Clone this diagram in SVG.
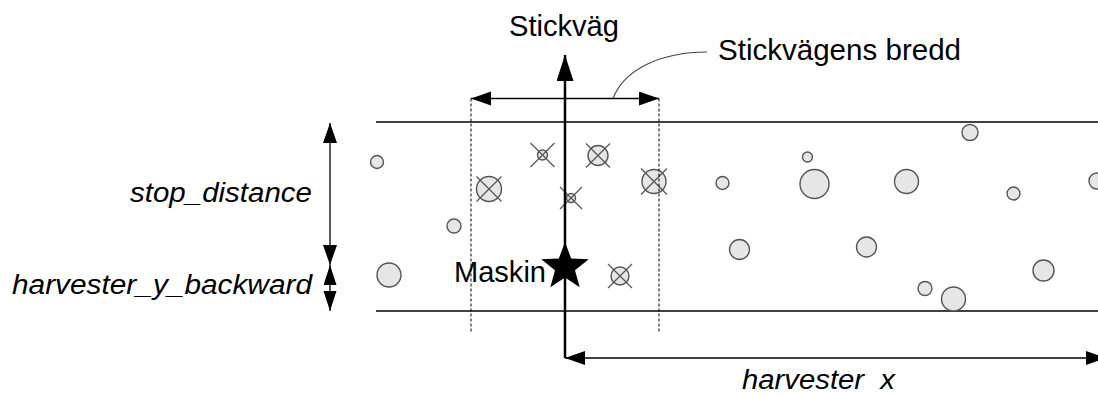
<svg xmlns="http://www.w3.org/2000/svg" width="1098" height="394" viewBox="0 0 1098 394">
  <style>
    .lbl { font-family: "Liberation Sans", Arial, sans-serif; font-size: 29px; fill: #000; }
    .ital { font-family: "Liberation Sans", Arial, sans-serif; font-size: 27px; font-style: italic; fill: #000; }
    .tree { fill: #e6e6e6; stroke: #555; stroke-width: 1.4; }
    .cross { stroke: #555; stroke-width: 1.2; fill: none; }
    .edge { stroke: #000; stroke-width: 1.3; fill: none; }
    .dash { stroke: #000; stroke-width: 1; stroke-dasharray: 3 2; fill: none; }
    .dim { stroke: #000; stroke-width: 1.3; fill: none; }
    .axis { stroke: #000; stroke-width: 2.5; fill: none; }
    .leader { stroke: #444; stroke-width: 1.1; fill: none; }
  </style>
  <defs>
    <marker id="arr" markerUnits="userSpaceOnUse" markerWidth="22" markerHeight="16" refX="20" refY="7" orient="auto-start-reverse" viewBox="0 0 22 16">
      <path d="M0,0 L20,7 L0,14 z" fill="#000"/>
    </marker>
    <marker id="arrS" markerUnits="userSpaceOnUse" markerWidth="22" markerHeight="16" refX="20" refY="6.5" orient="auto-start-reverse" viewBox="0 0 22 16">
      <path d="M0,0 L20,6.5 L0,13 z" fill="#000"/>
    </marker>
    <marker id="arrBig" markerUnits="userSpaceOnUse" markerWidth="30" markerHeight="20" refX="26" refY="8.5" orient="auto" viewBox="0 0 30 20">
      <path d="M0,0 L26,8.5 L0,17 z" fill="#000"/>
    </marker>
  </defs>

  <g id="road">
    <line class="edge" x1="376" y1="122" x2="1098" y2="122"/>
    <line class="edge" x1="376" y1="311" x2="1098" y2="311"/>
  </g>

  <g id="trees">
    <g id="t1"><circle class="tree" cx="377" cy="162" r="6.5"/></g>
    <g id="t2"><circle class="tree" cx="389" cy="275" r="12"/></g>
    <g id="t3"><circle class="tree" cx="454" cy="226" r="7"/></g>
    <g id="t4"><circle class="tree" cx="722.5" cy="183" r="6.5"/></g>
    <g id="t5"><circle class="tree" cx="807.5" cy="157" r="5"/></g>
    <g id="t6"><circle class="tree" cx="814.5" cy="184" r="14.5"/></g>
    <g id="t7"><circle class="tree" cx="906.5" cy="181.5" r="12"/></g>
    <g id="t8"><circle class="tree" cx="970" cy="132.5" r="8"/></g>
    <g id="t9"><circle class="tree" cx="1013.5" cy="193.5" r="6.5"/></g>
    <g id="t10"><circle class="tree" cx="1097" cy="181" r="8"/></g>
    <g id="t11"><circle class="tree" cx="739.5" cy="249.5" r="10"/></g>
    <g id="t12"><circle class="tree" cx="866.5" cy="247" r="10"/></g>
    <g id="t13"><circle class="tree" cx="925" cy="288.5" r="7"/></g>
    <g id="t14"><circle class="tree" cx="953.5" cy="299" r="12"/></g>
    <g id="t15"><circle class="tree" cx="1043.5" cy="270.5" r="10.5"/></g>

    <g id="c1"><circle class="tree" cx="542.5" cy="155" r="5"/>
      <path class="cross" d="M530.5,143 L554.5,167 M554.5,143 L530.5,167"/></g>
    <g id="c2"><circle class="tree" cx="598" cy="155.5" r="10"/>
      <path class="cross" d="M586,143.5 L610,167.5 M610,143.5 L586,167.5"/></g>
    <g id="c3"><circle class="tree" cx="489" cy="189" r="12.5"/>
      <path class="cross" d="M476.5,176.5 L501.5,201.5 M501.5,176.5 L476.5,201.5"/></g>
    <g id="c4"><circle class="tree" cx="571" cy="198" r="4.5"/>
      <path class="cross" d="M560,187 L582,209 M582,187 L560,209"/></g>
    <g id="c5"><circle class="tree" cx="654" cy="181.5" r="12"/>
      <path class="cross" d="M641,168.5 L667,194.5 M667,168.5 L641,194.5"/></g>
    <g id="c6"><circle class="tree" cx="620" cy="276" r="9"/>
      <path class="cross" d="M608,264 L632,288 M632,264 L608,288"/></g>
  </g>

  <g id="connectors">
    <line class="dash" x1="471" y1="98.5" x2="471" y2="332"/>
    <line class="dash" x1="659" y1="98.5" x2="659" y2="332"/>
    <line class="dim" x1="471" y1="98.5" x2="659" y2="98.5" marker-start="url(#arr)" marker-end="url(#arr)"/>
    <path class="leader" d="M613,98.5 C624,70 660,52 707,52"/>
    <line class="axis" x1="565" y1="358" x2="565" y2="55" marker-end="url(#arrBig)"/>
    <line class="dim" x1="565" y1="358" x2="1106" y2="358" marker-start="url(#arr)" marker-end="url(#arr)"/>
    <line class="dim" x1="330" y1="123" x2="330" y2="265" marker-start="url(#arr)" marker-end="url(#arr)"/>
    <line class="dim" x1="330" y1="265" x2="330" y2="311" marker-start="url(#arrS)" marker-end="url(#arrS)"/>
  </g>

  <g id="machine">
    <polygon fill="#000" points="565,242 571.17,258.51 588.78,259.27 574.99,270.24 579.69,287.23 565,277.5 550.31,287.23 555.01,270.24 541.22,259.27 558.83,258.51"/>
    <text class="lbl" x="454" y="282" textLength="92" lengthAdjust="spacingAndGlyphs">Maskin</text>
  </g>

  <g id="labels">
    <text class="lbl" x="509" y="36" textLength="110" lengthAdjust="spacingAndGlyphs">Stickväg</text>
    <text class="lbl" x="718" y="60" textLength="243" lengthAdjust="spacingAndGlyphs">Stickvägens bredd</text>
    <text class="ital" x="130" y="202" textLength="182" lengthAdjust="spacingAndGlyphs">stop_distance</text>
    <text class="ital" x="12" y="294" textLength="300" lengthAdjust="spacingAndGlyphs">harvester_y_backward</text>
    <text class="ital" x="742" y="389" textLength="153" lengthAdjust="spacingAndGlyphs" xml:space="preserve">harvester  x</text>
  </g>
</svg>
